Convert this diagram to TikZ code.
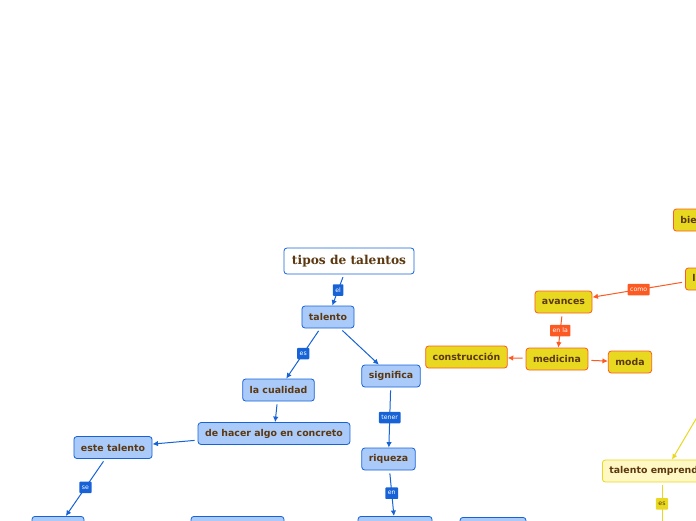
\documentclass[tikz,border=0pt]{standalone}
\usepackage{fontspec}
\setmainfont{DejaVu Sans}
\newfontfamily\titlefont{DejaVu Serif}
\usetikzlibrary{arrows.meta,positioning}
\definecolor{mapblue}{RGB}{22,98,214}
\definecolor{nodeblue}{RGB}{170,203,250}
\definecolor{textbrown}{RGB}{92,56,16}
\definecolor{mapyellow}{RGB}{232,216,32}
\definecolor{maporange}{RGB}{252,90,34}
\definecolor{paleyellow}{RGB}{255,248,196}

\begin{document}
\begin{tikzpicture}[x=1pt, y=-1pt,
  box/.style={draw=mapblue, fill=nodeblue, rounded corners=3pt, line width=0.8pt, minimum height=22pt, inner xsep=7pt, inner ysep=0pt, text=textbrown, font=\fontsize{9.4}{11}\selectfont\bfseries},
  obox/.style={box, draw=maporange, fill=mapyellow},
  ybox/.style={box, draw=mapyellow, fill=paleyellow},
  lab/.style={fill=mapblue, text=white, font=\fontsize{6.2}{7}\selectfont, inner xsep=2.5pt, inner ysep=0pt, minimum height=11.5pt, rounded corners=0.8pt},
  olab/.style={lab, fill=maporange},
  ylab/.style={lab, fill=mapyellow, text=textbrown},
  link/.style={draw=mapblue, line width=1pt, shorten <=3pt, -{Latex[length=5.5pt,width=5.5pt]}},
  olink/.style={link, draw=maporange},
  ylink/.style={link, draw=mapyellow}
]
\useasboundingbox (0,0) rectangle (696,520);
\clip (0,0) rectangle (696,520);

% blue branch
\node[box, fill=white, minimum height=26pt, inner xsep=8pt, font=\fontsize{12.2}{14}\selectfont\titlefont\bfseries] (tipos) at (349,261) {tipos de talentos};
\node[box] (talento) at (328,317) {talento};
\node[box] (cualidad) at (278.5,390) {la cualidad};
\node[box] (significa) at (391,376) {significa};
\node[box] (hacer) at (274,433.5) {de hacer algo en concreto};
\node[box] (riqueza) at (388.5,459) {riqueza};
\node[box] (este) at (113,447.5) {este talento};
\node[box, anchor=north, minimum width=52pt] (bajo1) at (58,516) {};
\node[box, anchor=north, minimum width=93pt] (bajo2) at (237.5,516) {};
\node[box, anchor=north, minimum width=74pt] (bajo3) at (395,516) {};
\node[box, anchor=north, minimum width=66pt] (bajo4) at (493,517) {};

% orange branch
\node[obox, anchor=west] (bienes) at (673,220) {bienestar};
\node[obox, anchor=west] (lujo) at (685,279) {lujo};
\node[obox] (avances) at (563.5,302) {avances};
\node[obox] (medicina) at (557,359) {medicina};
\node[obox] (construccion) at (466.5,357) {construcción};
\node[obox] (moda) at (630,362) {moda};

% yellow branch
\coordinate (arriba) at (719,380);
\node[ybox, anchor=west] (empre) at (602,471) {talento emprendedor};
\coordinate (abajo) at (662,530);

\draw[link] (tipos) -- node[lab] {el} (talento);
\draw[link] (talento) -- node[lab] {es} (cualidad);
\draw[link] (significa) -- node[lab] {tener} (riqueza);
\draw[link] (riqueza) -- node[lab] {en} (bajo3);
\draw[link] (este) -- node[lab] {se} (bajo1);
\foreach \a/\b in {talento/significa, cualidad/hacer, hacer/este}
  \draw[link] (\a) -- (\b);

\draw[olink] (lujo) -- node[olab] {como} (avances);
\draw[olink] (avances) -- node[olab] {en la} (medicina);
\foreach \a/\b in {medicina/construccion, medicina/moda}
  \draw[olink] (\a) -- (\b);

\draw[ylink] (arriba) -- ([xshift=70pt]empre.north west);
\draw[ylink] (empre.south -| abajo) -- node[ylab, pos=0.45] {es} (abajo);
\end{tikzpicture}
\end{document}
